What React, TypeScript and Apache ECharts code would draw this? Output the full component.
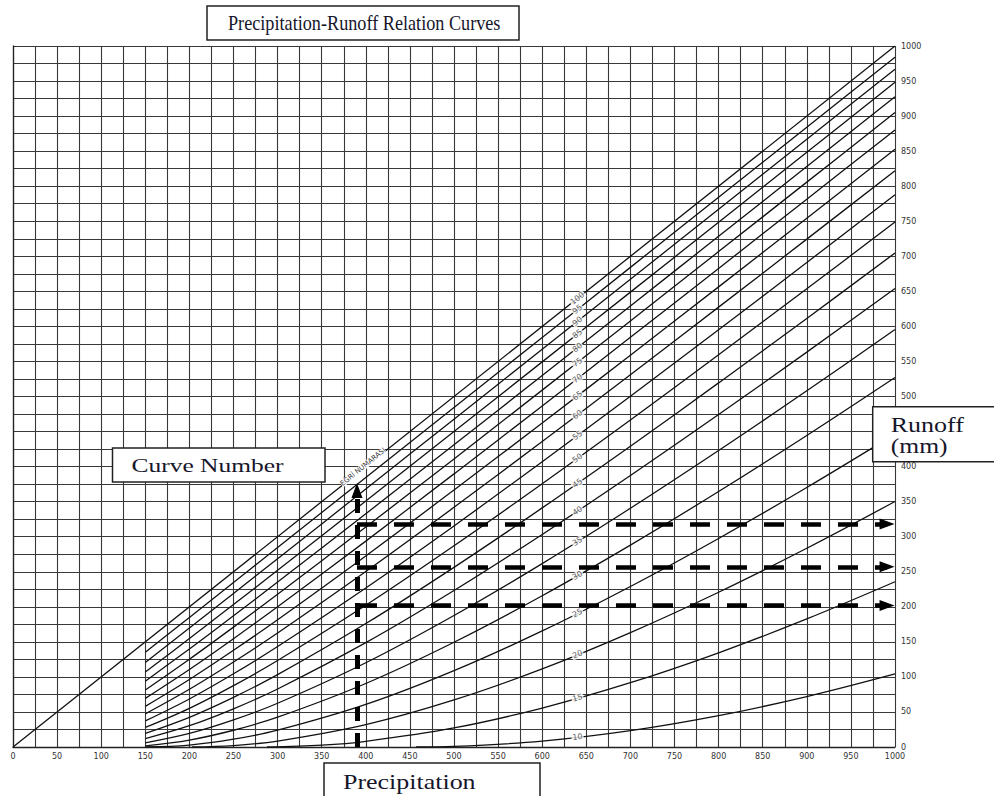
import React, { useEffect, useRef } from "react";
import * as echarts from "echarts";

// ---- data ----
const P_STEPS = [150, 200, 250, 300, 400, 500, 600, 700, 800, 900, 1000];
const X_LABELS_STEP = 50;
const GRID_STEP = 25;

const CN_100: number[][] = [[0, 0], [1000, 1000]];
const CN_95 = [135.1, 184.8, 234.6, 284.5, 384.4, 484.3, 584.3, 684.2, 784.2, 884.2, 984.1];
const CN_90 = [120.7, 169.7, 219.1, 268.6, 368.0, 467.7, 567.4, 667.2, 767.1, 867.0, 966.9];
const CN_85 = [107.0, 154.7, 203.2, 252.2, 350.8, 450.0, 549.4, 648.9, 748.6, 848.4, 948.2];
const CN_80 = [93.9, 139.9, 187.2, 235.3, 332.7, 431.1, 530.0, 629.2, 728.5, 828.0, 927.6];
const CN_75 = [81.3, 125.2, 171.0, 217.9, 313.7, 411.0, 509.1, 607.7, 706.7, 805.8, 905.1];
const CN_70 = [69.4, 110.6, 154.5, 200.0, 293.7, 389.6, 486.6, 584.4, 682.7, 781.4, 880.3];
const CN_65 = [58.0, 96.3, 137.9, 181.6, 272.6, 366.6, 462.2, 559.0, 656.4, 754.4, 852.7];
const CN_60 = [47.2, 82.3, 121.2, 162.6, 250.3, 341.9, 435.8, 531.1, 627.5, 724.5, 822.1];
const CN_55 = [37.2, 68.5, 104.4, 143.3, 226.9, 315.4, 407.0, 500.5, 595.3, 691.1, 787.7];
const CN_50 = [27.9, 55.2, 87.6, 123.4, 202.2, 287.0, 375.5, 466.6, 559.5, 653.7, 748.8];
const CN_45 = [19.4, 42.4, 70.9, 103.2, 176.1, 256.3, 341.1, 429.1, 519.4, 611.4, 704.7];
const CN_40 = [12.0, 30.4, 54.5, 82.8, 148.8, 223.2, 303.2, 387.3, 474.2, 563.3, 654.1];
const CN_35 = [5.9, 19.3, 38.6, 62.4, 120.2, 187.6, 261.6, 340.5, 422.9, 508.1, 595.5];
const CN_30 = [1.6, 9.9, 23.9, 42.5, 90.6, 149.4, 215.8, 288.0, 364.5, 444.4, 527.1];
const CN_25 = [0, 2.8, 11.1, 23.9, 60.7, 108.9, 165.6, 229.0, 297.5, 370.2, 446.3];
const CN_20: number[][] = [[203, 0], [250, 2.1], [300, 8.4], [400, 31.9], [500, 67.1], [600, 111.4], [700, 163.2], [800, 220.8], [900, 283.5], [1000, 350.2]];
const CN_15: number[][] = [[288, 0], [350, 2.6], [400, 8.1], [500, 27.2], [600, 55.6], [700, 91.7], [800, 134.4], [900, 182.7], [1000, 235.7]];
const CN_10: number[][] = [[457, 0], [500, 0.8], [600, 8.4], [700, 23.3], [800, 44.7], [900, 71.9], [1000, 104.2]];

const CURVE_NUMBERS = [100, 95, 90, 85, 80, 75, 70, 65, 60, 55, 50, 45, 40, 35, 30, 25, 20, 15, 10];
const LABEL_P = 640;

// dashed guide lines
const GUIDE_P = 390;
const GUIDE_TOP_Q = 366;
const GUIDE_Q = [318, 257, 202];
const GUIDE_END_P = 991;

// ---- layout ----
const W = 994;
const H = 796;
const G_LEFT = 13;
const G_TOP = 46;
const G_RIGHT = 99;
const G_BOTTOM = 49;

const pair = (q: number[]) => P_STEPS.map((p, i) => [p, q[i]]);

const CURVES: number[][][] = [
  CN_100, pair(CN_95), pair(CN_90), pair(CN_85), pair(CN_80), pair(CN_75), pair(CN_70),
  pair(CN_65), pair(CN_60), pair(CN_55), pair(CN_50), pair(CN_45), pair(CN_40),
  pair(CN_35), pair(CN_30), pair(CN_25), CN_20, CN_15, CN_10,
];

export default function App() {
  const ref = useRef<HTMLDivElement>(null);
  useEffect(() => {
    if (!ref.current) return;
    const chart = echarts.init(ref.current, null, { renderer: "svg", width: W, height: H });
    const plotW = W - G_LEFT - G_RIGHT;
    const plotH = H - G_TOP - G_BOTTOM;
    const kx = plotW / 1000;
    const ky = plotH / 1000;

    const labelData = CURVES.map((pts, idx) => {
      let a = pts[0], b = pts[pts.length - 1];
      for (let i = 0; i < pts.length - 1; i++) {
        if (pts[i][0] <= LABEL_P && pts[i + 1][0] >= LABEL_P) { a = pts[i]; b = pts[i + 1]; break; }
      }
      const t = (LABEL_P - a[0]) / (b[0] - a[0]);
      const q = a[1] + t * (b[1] - a[1]);
      const ang = (Math.atan(((b[1] - a[1]) * ky) / ((b[0] - a[0]) * kx)) * 180) / Math.PI;
      return {
        value: [LABEL_P, q],
        label: { show: true, formatter: String(CURVE_NUMBERS[idx]), rotate: ang },
      };
    });

    const axisCommon = {
      type: "value" as const,
      min: 0,
      max: 1000,
      interval: GRID_STEP,
      axisTick: { show: false },
      axisLine: { show: true, lineStyle: { color: "#222", width: 1.3 } },
      splitLine: { show: true, lineStyle: { color: "#383838", width: 1.1 } },
    };

    const curveSeries = CURVES.map((pts, idx) => ({
      type: "line",
      name: "CN " + CURVE_NUMBERS[idx],
      data: pts,
      smooth: 0.35,
      showSymbol: false,
      symbol: "none",
      lineStyle: { color: "#111", width: 1.3 },
      z: 3,
      silent: true,
      ...(idx === 0
        ? {
            markLine: {
              silent: true,
              animation: false,
              symbol: ["none", "triangle"],
              symbolSize: [11, 15],
              label: { show: false },
              lineStyle: { color: "#000", width: 4.5, type: [20, 17], cap: "butt" },
              data: [
                [
                  { coord: [GUIDE_P, 0], lineStyle: { color: "#000", width: 5, type: [14, 12] } },
                  { coord: [GUIDE_P, GUIDE_TOP_Q] },
                ],
                ...GUIDE_Q.map((q) => [{ coord: [GUIDE_P, q] }, { coord: [GUIDE_END_P, q] }]),
              ],
              z: 6,
            },
          }
        : {}),
    }));

    const serif = "'Liberation Serif', 'DejaVu Serif', serif";
    const txtColor = "#16162b";
    const box = (x: number, y: number, w: number, h: number) => ({
      type: "rect",
      z: 100,
      shape: { x, y, width: w, height: h },
      style: { fill: "#fff", stroke: "#222", lineWidth: 1.5 },
    });
    const label = (text: string, x: number, y: number, size: number, sx: number) => ({
      type: "text",
      z: 101,
      x,
      y,
      scaleX: sx,
      style: {
        text,
        fill: txtColor,
        fontSize: size,
        fontFamily: serif,
        textAlign: "left",
        textVerticalAlign: "middle",
        align: "left",
        verticalAlign: "middle",
      },
    });

    chart.setOption({
      animation: false,
      backgroundColor: "#fff",
      grid: { left: G_LEFT, right: G_RIGHT, top: G_TOP, bottom: G_BOTTOM, outerBoundsMode: "none" },
      xAxis: {
        ...axisCommon,
        axisLabel: {
          margin: 5,
          fontSize: 8,
          color: "#333",
          fontFamily: "'DejaVu Sans', sans-serif",
          formatter: (v: number) => (v % X_LABELS_STEP === 0 ? String(v) : ""),
        },
      },
      yAxis: {
        ...axisCommon,
        position: "right",
        axisLabel: {
          margin: 6,
          fontSize: 8,
          color: "#333",
          fontFamily: "'DejaVu Sans', sans-serif",
          formatter: (v: number) => (v % X_LABELS_STEP === 0 ? String(v) : ""),
        },
      },
      series: [
        ...curveSeries,
        {
          type: "scatter",
          data: labelData,
          symbolSize: 1,
          itemStyle: { color: "rgba(0,0,0,0)" },
          z: 5,
          silent: true,
          label: {
            show: true,
            position: "inside",
            fontSize: 8,
            color: "#333",
            fontFamily: "'DejaVu Sans', sans-serif",
            backgroundColor: "#fff",
            padding: [0, 1],
          },
        },
      ],
      graphic: [
        box(207, 6, 312, 34),
        label("Precipitation-Runoff Relation Curves", 228, 23.5, 20, 0.91),
        box(112.5, 448, 212.5, 34),
        label("Curve Number", 131.5, 465.5, 19, 1.34),
        box(872.7, 406.7, 130, 55),
        label("Runoff", 890.7, 425, 20, 1.3),
        label("(mm)", 890.7, 446, 20, 1.28),
        box(324, 763, 216, 40),
        label("Precipitation", 343, 782, 22, 1.18),
        {
          type: "text",
          z: 101,
          x: 363,
          y: 467,
          rotation: (39 * Math.PI) / 180,
          style: {
            text: "EĞRİ NUMARASI",
            fill: "#333",
            fontSize: 7,
            fontFamily: "'DejaVu Sans', sans-serif",
            textAlign: "center",
            textVerticalAlign: "middle",
            align: "center",
            verticalAlign: "middle",
            backgroundColor: "#fff",
          },
        },
      ],
    });
    return () => chart.dispose();
  }, []);

  return (
    <div
      ref={ref}
      style={{ position: "fixed", left: 0, top: 0, width: W, height: H, background: "#fff" }}
    />
  );
}
